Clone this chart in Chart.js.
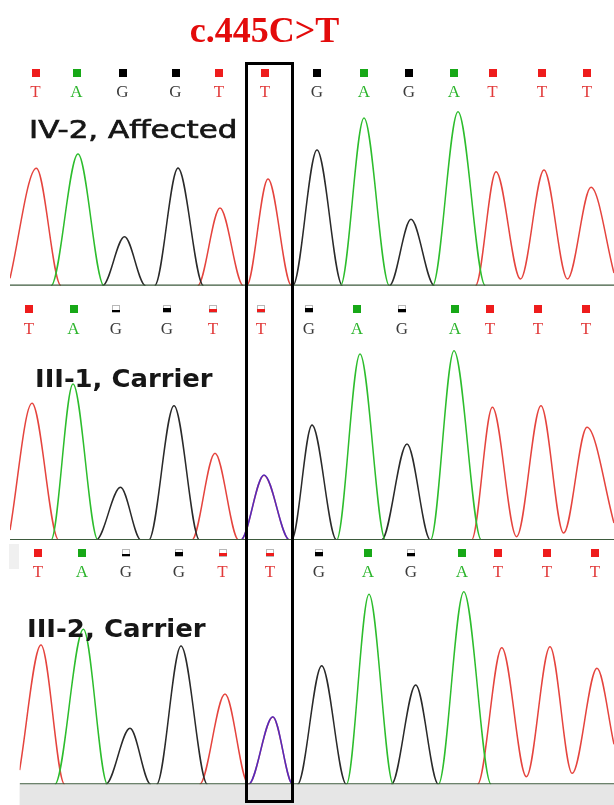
<!DOCTYPE html>
<html><head><meta charset="utf-8">
<script src="https://cdn.jsdelivr.net/npm/chart.js@4.4.1/dist/chart.umd.min.js"></script>
<style>
html,body{margin:0;padding:0;background:#fff;}
#wrap{position:relative;width:614px;height:805px;overflow:hidden;background:#fff;}
canvas{position:absolute;left:0;display:block;}
.lbl{position:absolute;white-space:nowrap;line-height:1;transform-origin:0 0;color:#161616;font-family:"DejaVu Sans",sans-serif;font-size:25px;}
#title{position:absolute;left:0;top:9px;width:529px;text-align:center;line-height:36px;font:bold 36px "Liberation Serif",serif;color:#e30b0b;white-space:nowrap;}
#box{position:absolute;left:244.5px;top:61.5px;width:49.5px;height:741px;border:3px solid #000;box-sizing:border-box;}
#strip{position:absolute;left:9px;top:544px;width:10px;height:25px;background:#f0f0f0;}
</style></head><body>
<div id="wrap">
  <canvas id="c1" width="614" height="290" style="top:0px"></canvas>
  <canvas id="c2" width="614" height="253" style="top:290px"></canvas>
  <canvas id="c3" width="614" height="262" style="top:543px"></canvas>
  <div id="strip"></div>
  <div id="title">c.445C&gt;T</div>
  <div class="lbl" id="l1" style="left:29px;top:117px;font-weight:normal;-webkit-text-stroke:0.7px #161616">IV-2, Affected</div>
  <div class="lbl" id="l2" style="left:35px;top:365.5px;font-weight:bold">III-1, Carrier</div>
  <div class="lbl" id="l3" style="left:26.6px;top:615.5px;font-weight:bold">III-2, Carrier</div>
  <div id="box"></div>
</div>
<script>
// ---- base calls (same sequence in all three samples) ----
const bases = ['T','A','G','G','T','T','G','A','G','A','T','T','T'];
const callPos1 = [35.5, 76.5, 122.5, 175.5, 219, 265, 317, 364, 409, 454, 492.5, 542, 587];
const callPos2 = [29, 73.5, 116, 167, 213, 261, 309, 357, 402, 455, 490, 538, 586];
const callPos3 = [38, 82, 126, 179, 222.5, 270, 319, 368, 411, 462, 498, 547, 595];
const quality1 = [1,1,1,1,1,1,1,1,1,1,1,1,1];
const quality2 = [1,1,0.3,0.45,0.4,0.4,0.5,1,0.4,1,1,1,1];
const quality3 = [1,1,0.3,0.45,0.4,0.4,0.5,1,0.4,1,1,1,1];

// ---- peaks, IV-2 (affected, homozygous T) ----
const peakBase1   = ['T','A','G','G','T','T','G','A','G','A','T','T','T'];
const peakPos1    = [36.4, 78, 124.5, 178, 220, 268, 317, 364, 411, 458, 496, 544, 591];
const peakHeight1 = [1174, 1317, 490, 1177, 777, 1067, 1357, 1677, 664, 1740, 1140, 1157, 984];
const riseFrom1   = [10, 51, 102.5, 154.6, 197.6, 246.6, 292.8, 340.5, 389.4, 432.5, 475.5, 520.5, 567.5];
const riseFromH1  = [74, 0, 0, 0, 0, 0, 0, 0, 0, 0, 0, 67, 67];
const fallTo1     = [61, 104, 145.6, 203.5, 243.4, 291.6, 342.5, 389.4, 434.4, 485.3, 520.5, 567.5, 614];
const fallToH1    = [0, 0, 0, 0, 0, 0, 0, 0, 0, 0, 67, 67, 127];

// ---- peaks, III-1 (carrier, C/T) ----
const peakBase2   = ['T','A','G','G','T','T','C','G','A','G','A','T','T','T'];
const peakPos2    = [32, 73, 120.5, 174, 215, 264, 264, 312, 360, 407, 454, 492.4, 541, 587];
const peakHeight2 = [1367, 1560, 527, 1343, 867, 648, 650, 1150, 1860, 960, 1893, 1327, 1343, 1127];
const riseFrom2   = [10, 51, 96, 148.7, 191.8, 240.7, 240.7, 291.6, 336.6, 381.6, 430.5, 471.6, 516.6, 563.6];
const riseFromH2  = [100, 0, 0, 0, 0, 0, 0, 0, 0, 0, 0, 0, 33, 70];
const fallTo2     = [58.7, 98, 141, 199.6, 238.7, 289.6, 289.6, 336.6, 385.5, 430.5, 481.4, 516.6, 563.6, 614];
const fallToH2    = [0, 0, 0, 0, 0, 0, 0, 0, 0, 0, 0, 33, 70, 170];

// ---- peaks, III-2 (carrier, C/T) ----
const peakBase3   = ['T','A','G','G','T','T','C','G','A','G','A','T','T','T'];
const peakPos3    = [41, 83.4, 130, 181, 225, 272.8, 272.8, 321.7, 369, 415.7, 463.8, 501.8, 550, 597];
const peakHeight3 = [1393, 1550, 560, 1383, 903, 674, 676, 1186, 1900, 993, 1926, 1366, 1376, 1160];
const riseFrom3   = [19.6, 54.8, 105.7, 156.6, 199.6, 248.5, 248.5, 297.5, 346.4, 391.4, 438.4, 477.5, 526.4, 572.2];
const riseFromH3  = [143, 0, 0, 0, 0, 0, 0, 0, 0, 0, 0, 0, 76, 110];
const fallTo3     = [64.6, 107.6, 150.7, 207.4, 248.5, 292.8, 292.8, 346.4, 393.4, 438.4, 491.2, 526.4, 572.2, 614];
const fallToH3    = [0, 0, 0, 0, 0, 0, 0, 0, 0, 0, 0, 76, 110, 400];

const labels = ['IV-2, Affected', 'III-1, Carrier', 'III-2, Carrier'];

// ---- styles ----
const traceColor  = {T:'#e5443e', A:'#2dbd2d', G:'#2a2a2a', C:'rgba(45,35,220,0.78)'};
const markColor   = {T:'#ee1c1c', A:'#17a817', G:'#000000', C:'#1f3fe0'};
const letterColor = {T:'#e23a3a', A:'#2cb52c', G:'#3a3a3a', C:'#3050e0'};

function buildTrace(b, p) {
  const pts = [];
  for (let i = 0; i < p.base.length; i++) {
    if (p.base[i] !== b) continue;
    const last = pts[pts.length - 1];
    if (!last && p.rx[i] > p.xmin) pts.push({x: p.xmin, y: 0});
    if (!last || last.x !== p.rx[i] || last.y !== p.rh[i]) pts.push({x: p.rx[i], y: p.rh[i]});
    pts.push({x: p.pos[i], y: p.h[i]});
    pts.push({x: p.fx[i], y: p.fh[i]});
  }
  if (pts.length && pts[pts.length - 1].x < p.xmax) pts.push({x: p.xmax, y: 0});
  return pts;
}

function callsPlugin(p) {
  return {
    id: 'calls' + p.id,
    beforeDatasetsDraw(chart) {
      if (!p.band) return;
      const {ctx, chartArea: a} = chart;
      ctx.save();
      ctx.fillStyle = '#e6e6e6';
      ctx.fillRect(a.left, a.bottom, a.right - a.left, chart.height - a.bottom);
      ctx.restore();
    },
    afterDatasetsDraw(chart) {
      const ctx = chart.ctx, xs = chart.scales.x;
      ctx.save();
      bases.forEach((b, i) => {
        const px = xs.getPixelForValue(p.callPos[i]);
        const s = 8, x0 = Math.round(px - s / 2), y0 = Math.round(p.markY - s / 2);
        const q = p.quality[i];
        if (q >= 1) {
          ctx.fillStyle = markColor[b];
          ctx.fillRect(x0, y0, s, s);
        } else {
          ctx.fillStyle = '#ffffff';
          ctx.fillRect(x0, y0, s, s);
          ctx.strokeStyle = '#b8b8b8';
          ctx.lineWidth = 1;
          ctx.strokeRect(x0 + 0.5, y0 + 0.5, s - 1, s - 1);
          const hq = Math.max(2, Math.round(s * q));
          ctx.fillStyle = markColor[b];
          ctx.fillRect(x0, y0 + s - hq - 1, s, hq);
        }
        ctx.font = '17px "Liberation Serif", serif';
        ctx.textAlign = 'center';
        ctx.textBaseline = 'alphabetic';
        ctx.fillStyle = letterColor[b];
        ctx.fillText(b, px, p.letterY + 5.7);
      });
      ctx.restore();
    }
  };
}

function makeChart(p) {
  const datasets = [{
    label: 'baseline', data: [{x: p.xmin, y: 0}, {x: p.xmax, y: 0}],
    borderColor: '#3d5a3d', borderWidth: 2.2, pointRadius: 0, order: 0
  }];
  ['C', 'A', 'G', 'T'].forEach((b, k) => {
    const pts = buildTrace(b, p);
    if (!pts.length) return;
    datasets.push({
      label: b, data: pts, borderColor: traceColor[b], borderWidth: 1.5,
      pointRadius: 0, cubicInterpolationMode: 'monotone', order: k + 1,
      segment: {borderColor: c => (c.p0.parsed.y === 0 && c.p1.parsed.y === 0) ? 'rgba(0,0,0,0)' : undefined}
    });
  });
  return new Chart(document.getElementById(p.id), {
    type: 'line',
    data: {datasets},
    options: {
      responsive: false, animation: false, events: [],
      layout: {padding: p.pad},
      plugins: {legend: {display: false}, tooltip: {enabled: false}, title: {display: false}},
      scales: {
        x: {type: 'linear', min: p.xmin, max: p.xmax, display: false},
        y: {type: 'linear', min: 0, max: 2000, display: false}
      }
    },
    plugins: [callsPlugin(p)]
  });
}

makeChart({id: 'c1', xmin: 10, xmax: 614, pad: {top: 85.7, bottom: 4.3, left: 10, right: 0},
  base: peakBase1, pos: peakPos1, h: peakHeight1, rx: riseFrom1, rh: riseFromH1, fx: fallTo1, fh: fallToH1,
  callPos: callPos1, quality: quality1, markY: 73.3, letterY: 91.7});
makeChart({id: 'c2', xmin: 10, xmax: 614, pad: {top: 50, bottom: 3, left: 10, right: 0},
  base: peakBase2, pos: peakPos2, h: peakHeight2, rx: riseFrom2, rh: riseFromH2, fx: fallTo2, fh: fallToH2,
  callPos: callPos2, quality: quality2, markY: 19, letterY: 38.3});
makeChart({id: 'c3', xmin: 19.6, xmax: 614, pad: {top: 41.3, bottom: 20.7, left: 19.6, right: 0},
  base: peakBase3, pos: peakPos3, h: peakHeight3, rx: riseFrom3, rh: riseFromH3, fx: fallTo3, fh: fallToH3,
  callPos: callPos3, quality: quality3, markY: 9.5, letterY: 28, band: true});

// fit sample labels to their measured widths in the figure
const labelWidths = [208, 178, 179];
['l1', 'l2', 'l3'].forEach((id, i) => {
  const el = document.getElementById(id);
  el.textContent = labels[i];
  const w = el.offsetWidth;
  if (w > 0) el.style.transform = 'scaleX(' + (labelWidths[i] / w).toFixed(3) + ')';
});
</script>
</body></html>
